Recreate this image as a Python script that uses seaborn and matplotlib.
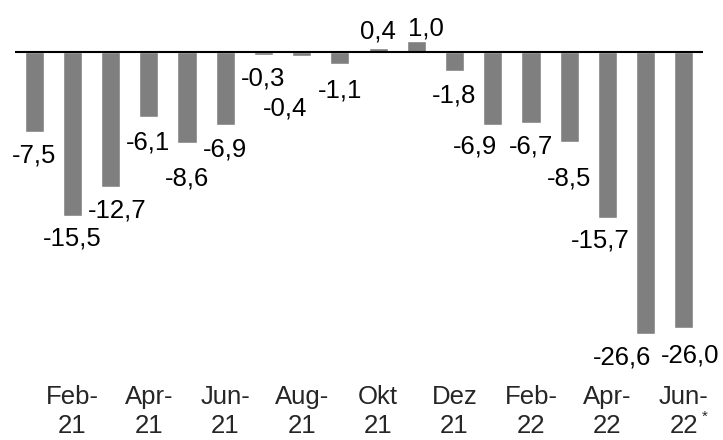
import matplotlib
matplotlib.use("Agg")
import matplotlib.pyplot as plt
import seaborn as sns
import pandas as pd

# ---- data ----
months = ["Jan-21", "Feb-21", "Mär-21", "Apr-21", "Mai-21", "Jun-21", "Jul-21", "Aug-21",
          "Sep-21", "Okt-21", "Nov-21", "Dez-21", "Jan-22", "Feb-22", "Mär-22", "Apr-22",
          "Mai-22", "Jun-22"]
values = [-7.5, -15.5, -12.7, -6.1, -8.6, -6.9, -0.3, -0.4, -1.1, 0.4, 1.0, -1.8,
          -6.9, -6.7, -8.5, -15.7, -26.6, -26.0]
tick_labels = ["Feb-\n21", "Apr-\n21", "Jun-\n21", "Aug-\n21", "Okt\n21", "Dez\n21",
               "Feb-\n22", "Apr-\n22", "Jun-\n22"]
footnote_mark = "*"

# ---- layout (label offsets in pixels: dx, distance from bar end) ----
label_dx = [0, 0, 7, -1, 0, 0, 0, -17, 0, 0, 10, 0, -18, 0, 0, -7, -24, 6]
label_dist = [21, 20, 21, 23, 33, 22, 21, 50, 24, 19, 15, 22, 19, 21, 34, 20, 21, 25]

sns.set_style("white")
plt.rcParams["font.family"] = ["Liberation Sans", "DejaVu Sans"]

W, H = 723, 440
fig = plt.figure(figsize=(W / 100, H / 100), dpi=100)
ax = fig.add_axes([15 / W, (H - 375) / H, 688 / W, 375 / H])

df = pd.DataFrame({"month": months, "value": values})
sns.barplot(data=df, x="month", y="value", color="#7f7f7f", saturation=1,
            width=0.5, ax=ax, order=months)

ax.set_xlim(-0.5, len(months) - 0.5)
ax.set_ylim(-30.47, 4.906)
ax.axhline(0, color="black", linewidth=1.5, zorder=3)

for s in ax.spines.values():
    s.set_visible(False)
ax.set_yticks([])
ax.set_xlabel("")
ax.set_ylabel("")

ax.set_xticks(list(range(1, len(months), 2)))
ax.set_xticklabels(tick_labels, fontsize=18.5, linespacing=1.3)
ax.tick_params(axis="x", length=0, pad=7)

# superscript footnote mark on the last tick label
ax.annotate(footnote_mark, xy=(len(months) - 1, 0), xycoords=("data", "axes fraction"),
            xytext=(21, -42), textcoords="offset pixels", ha="center", va="center",
            fontsize=11, annotation_clip=False)

for i, v in enumerate(values):
    txt = f"{v:.1f}".replace(".", ",")
    sign = -1 if v < 0 else 1
    dy = sign * (label_dist[i] + (2.5 if v < 0 else -2.5))
    ax.annotate(txt, xy=(i, v), xytext=(label_dx[i], dy), textcoords="offset pixels",
                ha="center", va="center", fontsize=18.5, color="black",
                annotation_clip=False)

fig.savefig("out.png", dpi=100)
